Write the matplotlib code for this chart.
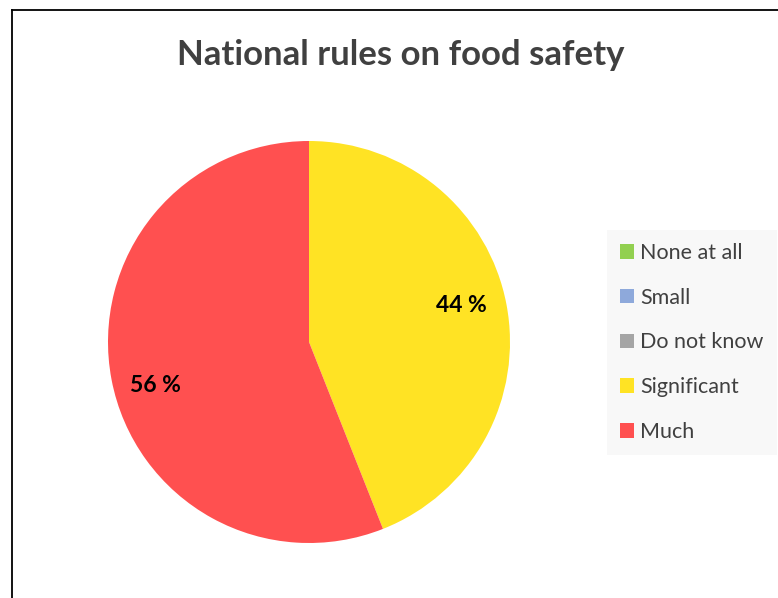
import matplotlib.pyplot as plt
from matplotlib.lines import Line2D
from matplotlib.patches import Patch

# answer categories and their shares (%)
categories = ["None at all", "Small", "Do not know", "Significant", "Much"]
shares = [0, 0, 0, 44, 56]
colors = ["#92D050", "#8EA9DB", "#A5A5A5", "#FFE324", "#FF5050"]

W, H = 778, 598
fig = plt.figure(figsize=(W / 100, H / 100), dpi=100)
fig.patch.set_facecolor("white")

# chart frame (top and left edges only show)
fig.add_artist(Line2D([11.5 / W, 11.5 / W], [0, 1 - 9.5 / H], color="black", lw=1.3))
fig.add_artist(Line2D([11.5 / W, 1], [1 - 9.5 / H, 1 - 9.5 / H], color="black", lw=1.3))

# pie axes placed in pixel terms: centre (309, 342), radius 201
cx, cy, r = 309, H - 342, 201
ax = fig.add_axes([(cx - r) / W, (cy - r) / H, 2 * r / W, 2 * r / H])
wedges, texts, autotexts = ax.pie(
    shares, colors=colors, startangle=90, counterclock=False,
    autopct=lambda p: f"{p:.0f} %" if p > 0 else "",
    pctdistance=0.78, radius=1.0,
    wedgeprops=dict(linewidth=0),
    textprops=dict(fontsize=16.5, fontweight="bold", color="black", family="Lato"),
)
# data labels sit a little lower, as in best-fit placement
autotexts[3].set_position((0.756, 0.184))
autotexts[4].set_position((-0.766, -0.214))
ax.set_xlim(-1, 1)
ax.set_ylim(-1, 1)
ax.set_aspect("equal")
ax.axis("off")

fig.text(401 / W, 1 - 55 / H, "National rules on food safety",
         ha="center", va="center", fontsize=25, fontweight="bold",
         color="#404040", family="Lato")

handles = [Patch(facecolor=c, edgecolor="none") for c in colors]
leg = fig.legend(handles, categories, loc="upper left",
                 bbox_to_anchor=(607 / W, 1 - 230 / H),
                 frameon=True, facecolor="#F8F8F8", edgecolor="none",
                 fancybox=False, framealpha=1,
                 prop=dict(family="Lato", size=15.5),
                 handlelength=0.65, handleheight=0.65, handletextpad=0.3,
                 labelspacing=1.15, borderpad=0.6, borderaxespad=0)
for t in leg.get_texts():
    t.set_color("#404040")

fig.savefig("out.png", dpi=100)
